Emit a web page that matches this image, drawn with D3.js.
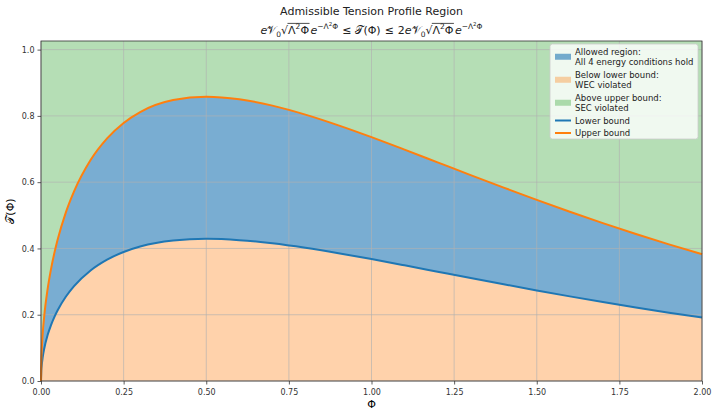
<!DOCTYPE html>
<html><head><meta charset="utf-8">
<script src="https://cdn.jsdelivr.net/npm/d3@7"></script>
<style>body{margin:0;background:#fff}svg{display:block;font-family:"DejaVu Sans",sans-serif}</style>
</head><body><svg id="c" width="717" height="414"></svg>
<script>
const phi = [0,0.001,0.002,0.005,0.01,0.02,0.03,0.04,0.05,0.075,0.1,0.15,0.2,0.25,0.3,0.4,0.5,0.6,0.7,0.8,0.9,1.0,1.1,1.2,1.3,1.4,1.5,1.6,1.7,1.8,1.9,2.0];
const lowerBound = [0,0.0316,0.0446,0.0704,0.0990,0.1386,0.1681,0.1922,0.2127,0.2541,0.2861,0.3334,0.3661,0.3894,0.4058,0.4239,0.4289,0.4251,0.4155,0.4019,0.3857,0.3679,0.3491,0.3299,0.3107,0.2918,0.2733,0.2554,0.2382,0.2218,0.2062,0.1914];
const upperBound = [0,0.0632,0.0892,0.1408,0.1980,0.2772,0.3362,0.3844,0.4254,0.5082,0.5722,0.6668,0.7322,0.7788,0.8116,0.8478,0.8578,0.8502,0.8310,0.8038,0.7714,0.7358,0.6982,0.6598,0.6214,0.5836,0.5466,0.5108,0.4764,0.4436,0.4124,0.3828];
const xTicks = [0,0.25,0.5,0.75,1.0,1.25,1.5,1.75,2.0];
const yTicks = [0,0.2,0.4,0.6,0.8,1.0];
const legendItems = [
  {type:"patch", color:"#1f77b4", alpha:0.6, lines:["Allowed region:","All 4 energy conditions hold"]},
  {type:"patch", color:"#ff7f0e", alpha:0.35, lines:["Below lower bound:","WEC violated"]},
  {type:"patch", color:"#2ca02c", alpha:0.35, lines:["Above upper bound:","SEC violated"]},
  {type:"line", color:"#1f77b4", lines:["Lower bound"]},
  {type:"line", color:"#ff7f0e", lines:["Upper bound"]}
];

const svg = d3.select("#c");
const L=41, R=702, T=41, B=381;
const yMax = 1.026;
const x = d3.scaleLinear().domain([0,2]).range([L,R]);
const y = d3.scaleLinear().domain([0,yMax]).range([B,T]);
const data = phi.map((p,i)=>({p, lo:lowerBound[i], up:upperBound[i]}));
const cv = d3.curveMonotoneX;

const g = svg.append("g");
g.append("path").datum(data).attr("d", d3.area().curve(cv).x(d=>x(d.p)).y0(y(0)).y1(d=>y(d.lo)))
  .attr("fill","#ff7f0e").attr("fill-opacity",0.35);
g.append("path").datum(data).attr("d", d3.area().curve(cv).x(d=>x(d.p)).y0(d=>y(d.lo)).y1(d=>y(d.up)))
  .attr("fill","#1f77b4").attr("fill-opacity",0.6);
g.append("path").datum(data).attr("d", d3.area().curve(cv).x(d=>x(d.p)).y0(d=>y(d.up)).y1(y(yMax)))
  .attr("fill","#2ca02c").attr("fill-opacity",0.35);

// grid
const grid = svg.append("g").attr("stroke","#b0b0b0").attr("stroke-width",0.8).attr("stroke-opacity",0.8);
xTicks.forEach(t=>grid.append("line").attr("x1",x(t)).attr("x2",x(t)).attr("y1",T).attr("y2",B));
yTicks.forEach(t=>grid.append("line").attr("x1",L).attr("x2",R).attr("y1",y(t)).attr("y2",y(t)));

// lines
svg.append("path").datum(data).attr("d", d3.line().curve(cv).x(d=>x(d.p)).y(d=>y(d.lo)))
  .attr("fill","none").attr("stroke","#1f77b4").attr("stroke-width",2);
svg.append("path").datum(data).attr("d", d3.line().curve(cv).x(d=>x(d.p)).y(d=>y(d.up)))
  .attr("fill","none").attr("stroke","#ff7f0e").attr("stroke-width",2);

// axes
const xa = svg.append("g").attr("transform",`translate(0,${B})`)
  .call(d3.axisBottom(x).tickValues(xTicks).tickFormat(d3.format(".2f")).tickSize(3.5).tickSizeOuter(0));
const ya = svg.append("g").attr("transform",`translate(${L},0)`)
  .call(d3.axisLeft(y).tickValues(yTicks).tickFormat(d3.format(".1f")).tickSize(3.5).tickSizeOuter(0));
[xa,ya].forEach(a=>{a.select(".domain").remove();a.selectAll("text").attr("font-size",8).attr("fill","#333").attr("font-family","DejaVu Sans");a.selectAll("line").attr("stroke","#333").attr("stroke-width",0.8);});
xa.selectAll("text").attr("dy","0.9em");
svg.append("rect").attr("x",L).attr("y",T).attr("width",R-L).attr("height",B-T)
  .attr("fill","none").attr("stroke","#333").attr("stroke-width",0.8);

// labels
svg.append("text").attr("x",(L+R)/2).attr("y",408).attr("text-anchor","middle").attr("font-size",11).text("Φ");
svg.append("text").attr("transform",`translate(14,${(T+B)/2}) rotate(-90)`).attr("text-anchor","middle")
  .attr("font-size",11).text("𝒯(Φ)");

// title
svg.append("text").attr("x",(L+R)/2).attr("y",15).attr("text-anchor","middle").attr("font-size",11).attr("fill","#222")
  .text("Admissible Tension Profile Region");

// formula laid out piece by piece
const FS = 11, SS = 7.5;
const pieces = [];
function add(txt, opt={}){ pieces.push(Object.assign({txt}, opt)); }
function bound(pre){
  if(pre) add(pre);
  add("e",{it:1});
  add("𝒱");
  add("0",{sub:1});
  add("√",{sqrt:1});
  add("Λ",{ov:1});
  add("2",{sup:1, ov:1});
  add("Φ",{ov:1});
  add("e",{it:1, gap:1.5});
  add("−Λ",{sup:1});
  add("2",{sup2:1});
  add("Φ",{sup:1});
}
bound("");
add("≤",{gap:4, after:4});
add("𝒯(Φ)");
add("≤",{gap:4, after:4});
bound("2");
const meas = svg.append("text").attr("font-size",FS);
pieces.forEach(p=>{
  const fs = p.sub||p.sup ? SS : (p.sup2 ? 5.5 : FS);
  meas.attr("font-size",fs).attr("font-style",p.it?"italic":"normal").text(p.txt);
  p.fs = fs; p.w = meas.node().getComputedTextLength();
});
meas.remove();
const total = d3.sum(pieces, p=>p.w + (p.gap||0) + (p.after||0));
let cx = (L+R)/2 - total/2;
const baseY = 34;
const ft = svg.append("g").attr("fill","#222");
let ovStart=null, ovEnd=null;
pieces.forEach(p=>{
  cx += (p.gap||0);
  let dy = 0;
  if(p.sub) dy = 2.5;
  if(p.sup) dy = -5;
  if(p.sup2) dy = -8;
  ft.append("text").attr("x",cx).attr("y",baseY+dy).attr("font-size",p.fs)
    .attr("font-style",p.it?"italic":"normal").text(p.txt);
  if(p.sqrt){ ovStart = cx + p.w - 0.6; }
  if(p.ov){ ovEnd = cx + p.w; }
  cx += p.w + (p.after||0);
  if(p.txt==="Φ" && p.ov){
    ft.append("line").attr("x1",ovStart).attr("x2",ovEnd+0.5).attr("y1",baseY-10.6).attr("y2",baseY-10.6)
      .attr("stroke","#222").attr("stroke-width",0.8);
  }
});

// legend
const lg = svg.append("g");
lg.append("rect").attr("x",550).attr("y",44).attr("width",148).attr("height",95).attr("rx",2.5)
  .attr("fill","#fff").attr("fill-opacity",0.8).attr("stroke","#ccc").attr("stroke-width",0.8);
let yy = 54.5;
legendItems.forEach(it=>{
  const n = it.lines.length, h = 10.5;
  const cy = yy + (n-1)*h/2 - 3;
  if(it.type==="patch"){
    lg.append("rect").attr("x",555).attr("y",cy-3).attr("width",16).attr("height",6)
      .attr("fill",it.color).attr("fill-opacity",it.alpha);
  } else {
    lg.append("line").attr("x1",555).attr("x2",571).attr("y1",cy).attr("y2",cy).attr("stroke",it.color).attr("stroke-width",2);
  }
  it.lines.forEach((s,i)=>lg.append("text").attr("x",575).attr("y",yy+i*h).attr("font-size",8.5).attr("fill","#222").text(s));
  yy += n*h + 2;
});
</script></body></html>
